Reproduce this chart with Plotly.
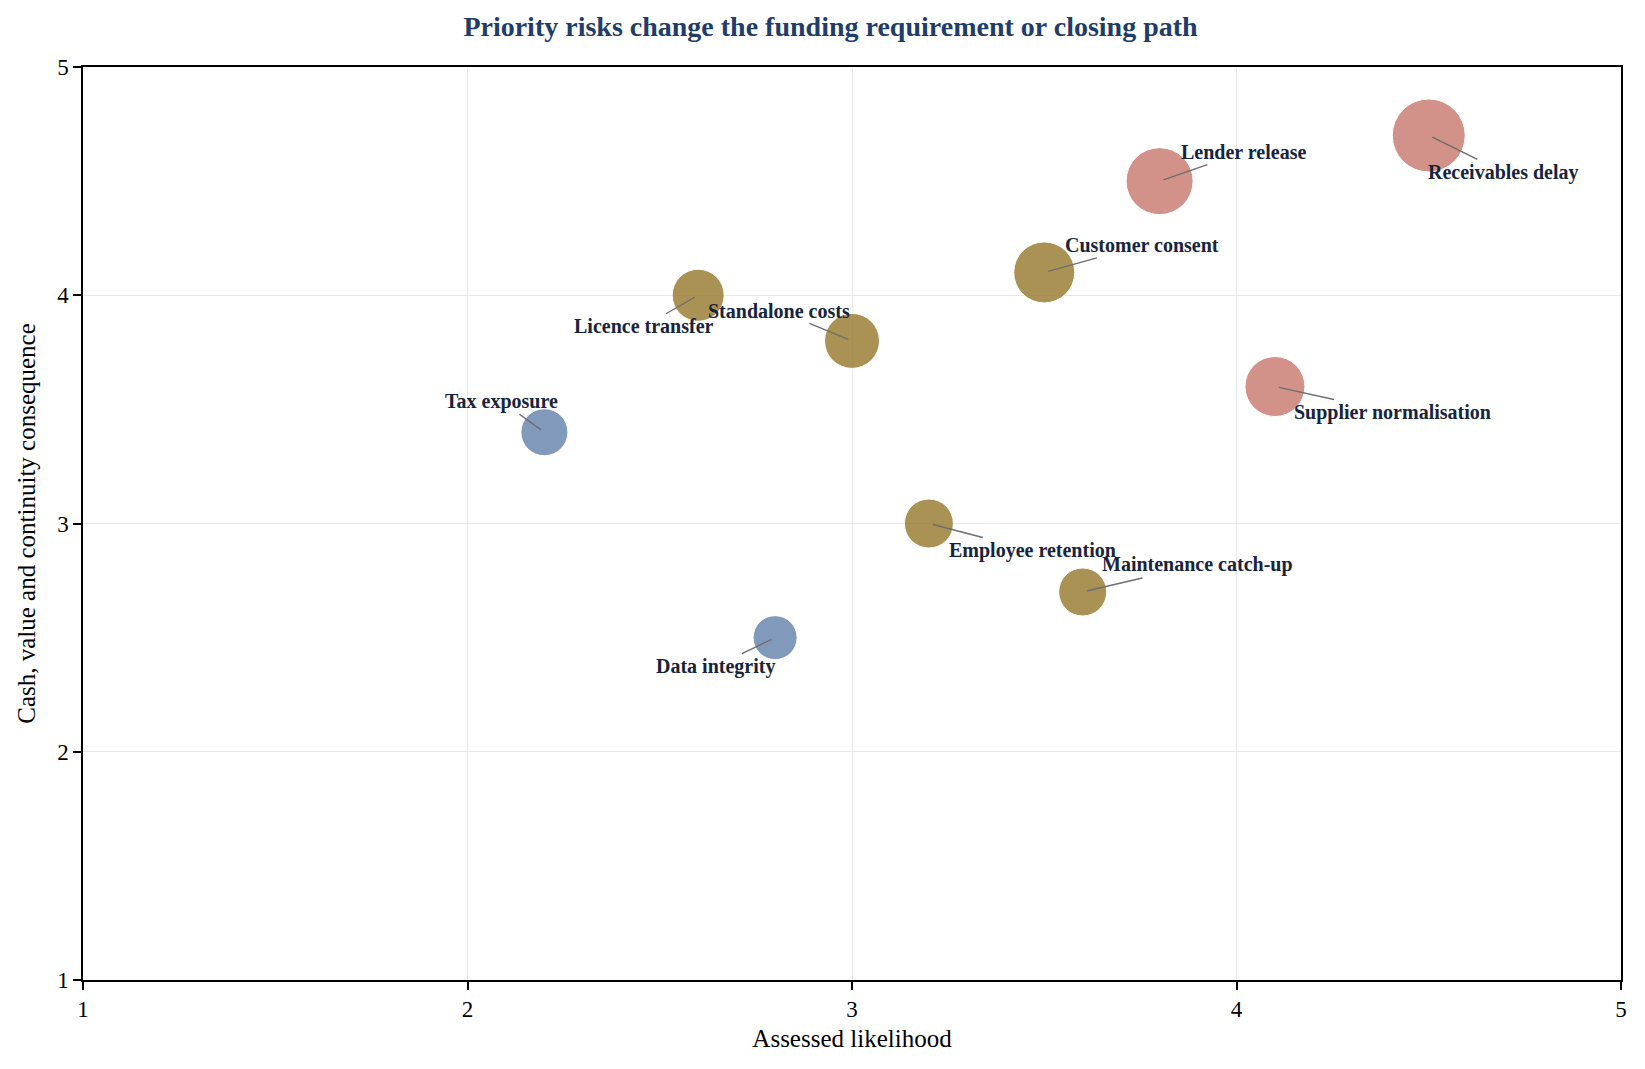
import plotly.graph_objects as go

# ==============================
# data
# ==============================

risks = [
    "Receivables delay", "Lender release", "Supplier normalisation",
    "Customer consent", "Licence transfer", "Standalone costs",
    "Employee retention", "Maintenance catch-up", "Tax exposure",
    "Data integrity",
]
likelihood = [4.5, 3.8, 4.1, 3.5, 2.6, 3.0, 3.2, 3.6, 2.2, 2.8]
consequence = [4.7, 4.5, 3.6, 4.1, 4.0, 3.8, 3.0, 2.7, 3.4, 2.5]
exposure = [7.3, 6.7, 6.0, 6.1, 5.2, 5.5, 4.9, 4.8, 4.7, 4.4]
tier = ["Critical", "Critical", "Critical", "High", "High", "High",
        "High", "High", "Medium", "Medium"]

axis_ticks = [1, 2, 3, 4, 5]

# ==============================
# styling
# ==============================

tier_colours = {"Critical": "#cc7f75", "High": "#9b7f36", "Medium": "#6c89b0"}

# label offsets in px (text centre relative to bubble)
label_offsets = {
    "Receivables delay": (75, 37),
    "Lender release": (84, -29),
    "Supplier normalisation": (118, 26),
    "Customer consent": (98, -27),
    "Licence transfer": (-54, 31),
    "Standalone costs": (-73, -30),
    "Employee retention": (104, 27),
    "Maintenance catch-up": (115, -27),
    "Tax exposure": (-43, -31),
    "Data integrity": (-60, 29),
}

FONT = "Liberation Serif, Times New Roman, serif"

fig = go.Figure()

fig.add_trace(go.Scatter(
    x=likelihood,
    y=consequence,
    mode="markers",
    text=risks,
    marker=dict(
        size=exposure,
        sizemode="diameter",
        sizeref=0.1,
        color=[tier_colours[t] for t in tier],
        opacity=0.85,
        line=dict(color="white", width=1),
    ),
    hovertemplate="%{text}<extra></extra>",
    showlegend=False,
))

for name, x, y in zip(risks, likelihood, consequence):
    ax, ay = label_offsets[name]
    fig.add_annotation(
        x=x, y=y, text=f"<b>{name}</b>",
        showarrow=True, arrowhead=0, arrowwidth=1.4, arrowcolor="#6e6e6e",
        ax=ax, ay=ay, standoff=4,
        font=dict(family=FONT, size=20, color="#16243d"),
    )

axis_common = dict(
    range=[1, 5],
    tickvals=axis_ticks,
    showline=True,
    linecolor="black",
    linewidth=1.5,
    mirror=True,
    ticks="outside",
    ticklen=8,
    tickwidth=1.5,
    tickcolor="black",
    showgrid=True,
    gridcolor="#e8e8e8",
    zeroline=False,
    tickfont=dict(family=FONT, size=23, color="black"),
)

fig.update_layout(
    width=1645,
    height=1069,
    paper_bgcolor="white",
    plot_bgcolor="white",
    font=dict(family=FONT, color="black"),
    title=dict(
        text="<b>Priority risks change the funding requirement or closing path</b>",
        x=0.5, xanchor="center", y=0.983, yanchor="middle",
        font=dict(family=FONT, size=28, color="#1f3d6b"),
    ),
    margin=dict(l=75, r=32, t=59, b=97),
    xaxis=dict(axis_common, title=dict(text="Assessed likelihood",
                                       font=dict(family=FONT, size=25), standoff=8)),
    yaxis=dict(axis_common, title=dict(text="Cash, value and continuity consequence",
                                       font=dict(family=FONT, size=25), standoff=14)),
)

fig.write_html("out.html")
